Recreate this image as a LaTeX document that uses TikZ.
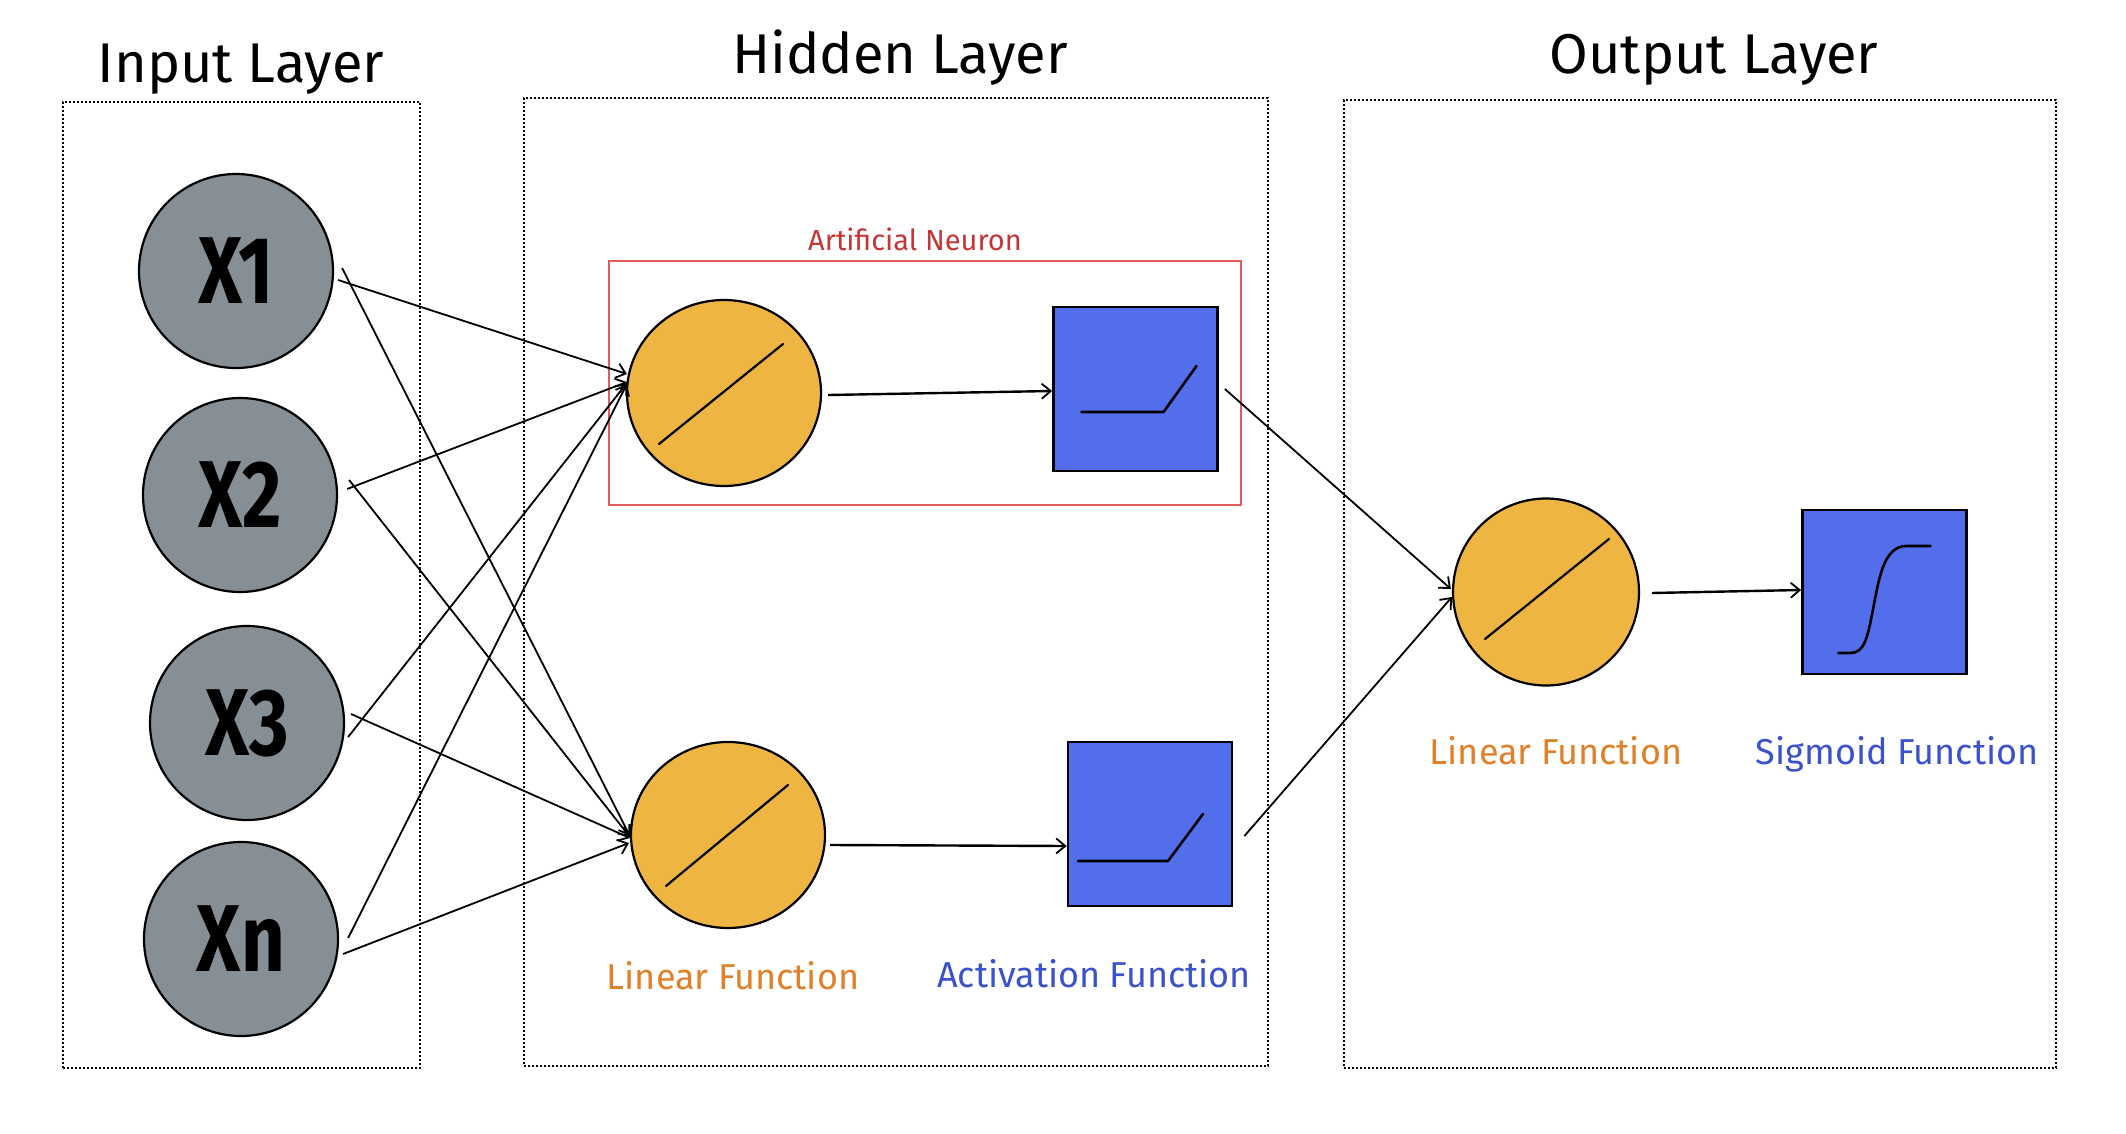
\documentclass[tikz,border=0pt]{standalone}
\usepackage{fontspec}
\setmainfont{Fira Sans}
\usetikzlibrary{arrows.meta,shapes.geometric,calc}
\definecolor{ingray}{RGB}{134,142,150}
\definecolor{neuorange}{RGB}{239,181,66}
\definecolor{actblue}{RGB}{83,110,235}
\definecolor{txtorange}{RGB}{224,128,41}
\definecolor{txtblue}{RGB}{59,82,205}
\definecolor{txtred}{RGB}{196,54,54}
\definecolor{boxred}{RGB}{226,90,90}
\begin{document}
\begin{tikzpicture}[x=1pt,y=-1pt,
  layerbox/.style={draw=black,line width=2pt,dash pattern=on 2pt off 2pt,inner sep=0pt},
  inpnode/.style={circle,draw=black,line width=2.2pt,fill=ingray,minimum size=194pt,inner sep=0pt},
  linnode/.style={ellipse,draw=black,line width=2.2pt,fill=neuorange,minimum width=194pt,minimum height=186pt,inner sep=0pt},
  actnode/.style={rectangle,draw=black,line width=2.8pt,fill=actblue,minimum width=164pt,minimum height=164pt,inner sep=0pt},
  conn/.style={line width=1.8pt,-{Straight Barb[length=9pt,width=15pt,line width=1.8pt]}},
  glyph/.style={line width=2.2pt,line cap=round,line join=round},
  title/.style={font=\fontsize{56}{60}\selectfont,anchor=base},
  lbl/.style={font=\fontsize{36}{40}\selectfont,anchor=base}
]
\path[fill=white,use as bounding box] (0,0) rectangle (2126,1134);

% layer boxes
\node[layerbox,minimum width=357pt,minimum height=966pt] (inbox) at (241.5,585) {};
\node[layerbox,minimum width=744pt,minimum height=968pt] (hidbox) at (896,582) {};
\node[layerbox,minimum width=712pt,minimum height=968pt] (outbox) at (1700,584) {};

% titles
\node[title] (tin) at (241,83) {Input Layer};
\node[title] (thid) at (900,74) {Hidden Layer};
\node[title] (tout) at (1714,74) {Output Layer};

% artificial neuron box
\node[draw=boxred,line width=1.2pt,minimum width=632pt,minimum height=244pt,inner sep=0pt] (neubox) at (925,383) {};
\node[font=\fontsize{29}{32}\selectfont,text=txtred,anchor=base] (neulbl) at (915,251) {Artificial Neuron};

% input nodes
\node[inpnode] (X1) at (236,271) {\scalebox{0.8}[1]{\fontsize{95}{95}\selectfont\bfseries X1}};
\node[inpnode] (X2) at (240,495) {\scalebox{0.8}[1]{\fontsize{95}{95}\selectfont\bfseries X2}};
\node[inpnode] (X3) at (247,723) {\scalebox{0.8}[1]{\fontsize{95}{95}\selectfont\bfseries X3}};
\node[inpnode] (Xn) at (241,939) {\scalebox{0.8}[1]{\fontsize{95}{95}\selectfont\bfseries Xn}};

% hidden neurons
\node[linnode] (N1) at (724,393) {};
\node[linnode] (N2) at (728,835) {};
\node[actnode] (A1) at (1135.5,389) {};
\node[actnode] (A2) at (1150,824) {};

% output neurons
\node[linnode,minimum width=186pt,minimum height=187pt] (O) at (1546,592) {};
\node[actnode] (S) at (1884.5,592) {};

% glyphs
\draw[glyph] ($(N1)+(-65,51)$) -- ($(N1)+(59,-49)$);
\draw[glyph] ($(N2)+(-62,51)$) -- ($(N2)+(60,-50)$);
\draw[glyph] ($(O)+(-61,47)$) -- ($(O)+(63,-53)$);
\draw[glyph,line width=2.6pt] ($(A1)+(-54,23)$) -- ($(A1)+(28,23)$) -- ($(A1)+(61,-23)$);
\draw[glyph,line width=2.6pt] ($(A2)+(-72,37)$) -- ($(A2)+(18,37)$) -- ($(A2)+(53,-10)$);
\draw[glyph,line width=2.6pt] ($(S)+(-46,61)$) -- ($(S)+(-34,61)$)
   .. controls ($(S)+(-20,61)$) and ($(S)+(-17,45)$) .. ($(S)+(-12,20)$)
   .. controls ($(S)+(-6,-10)$) and ($(S)+(-2,-46)$) .. ($(S)+(22,-46)$)
   -- ($(S)+(46,-46)$);

% labels
\node[lbl,text=txtorange] (l1) at (733,989) {Linear Function};
\node[lbl,text=txtblue] (l2) at (1094,987) {Activation Function};
\node[lbl,text=txtorange] (l3) at (1556,764) {Linear Function};
\node[lbl,text=txtblue] (l4) at (1897,764) {Sigmoid Function};

% connectors input -> hidden
\draw[conn] ($(X1.east)+(4,9)$) -- ($(N1.west)+(1,-19)$);
\draw[conn] ($(X1.east)+(8,-3)$) -- ($(N2.west)+(0,1)$);
\draw[conn] ($(X2.east)+(9,-6)$) -- ($(N1.west)+(1,-11)$);
\draw[conn] ($(X2.east)+(11,-15)$) -- ($(N2.west)+(0,2)$);
\draw[conn] ($(X3.east)+(3,14)$) -- ($(N1.west)+(1,-10)$);
\draw[conn] ($(X3.east)+(6,-9)$) -- ($(N2.west)+(0,3)$);
\draw[conn] ($(Xn.east)+(9,-1)$) -- ($(N1.west)+(1,-9)$);
\draw[conn] ($(Xn.east)+(4,15)$) -- ($(N2.west)+(-1,8)$);

% hidden -> activation
\draw[conn,line width=2.4pt] ($(N1.east)+(6,2)$) -- ($(A1.west)+(0,2)$);
\draw[conn,line width=2.4pt] ($(N2.east)+(4,10)$) -- ($(A2.west)+(0,22)$);

% activation -> output
\draw[conn] ($(A1.east)+(6,0)$) -- ($(O.west)+(-1,-3)$);
\draw[conn] ($(A2.east)+(11,12)$) -- ($(O.west)+(0,5)$);
\draw[conn,line width=2.4pt] ($(O.east)+(12,1)$) -- ($(S.west)+(0,-2)$);
\end{tikzpicture}
\end{document}
